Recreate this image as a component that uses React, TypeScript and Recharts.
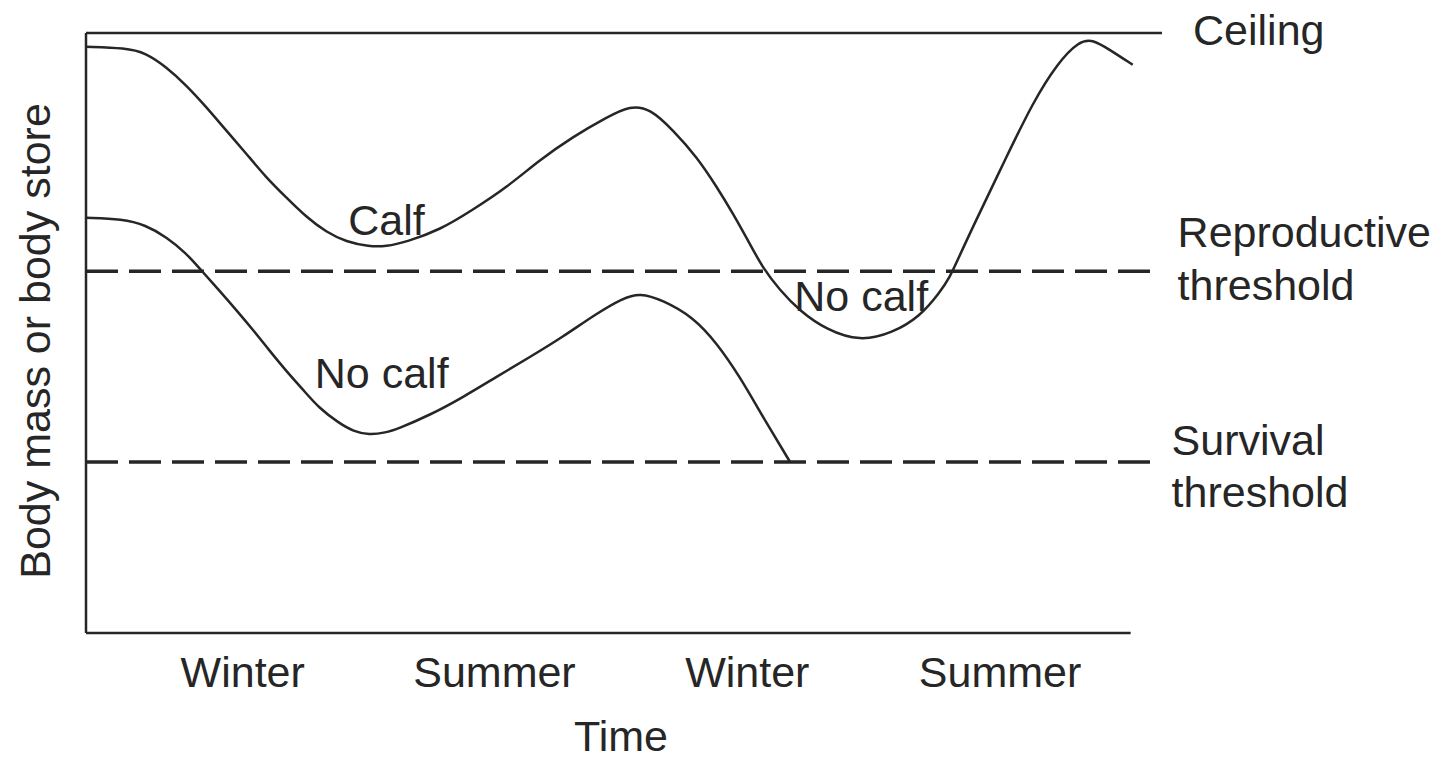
import { LineChart, Line, XAxis, YAxis, ReferenceLine, ReferenceDot, Label } from 'recharts'

// conceptual time axis: 0 = start of first winter, 100 = end of the drawn axis
const calfTime = [0, 3.8, 5.7, 7.7, 9.6, 11.5, 13.4, 15.3, 17.2, 19.1, 21.1, 23.0, 24.9, 27.1, 28.7, 30.7, 33.9, 37.0, 40.3, 43.4, 46.6, 49.9, 52.1, 54.0, 56.2, 58.5, 60.4, 61.9, 63.5, 64.8, 66.4, 68.3, 70.9, 74.1, 77.2, 79.8, 81.7, 82.7, 83.6, 84.9, 88.1, 90.6, 93.0, 95.1, 96.4, 98.0, 100.2]
const calfMass = [97.7, 97.5, 96.7, 94.3, 91.3, 87.7, 83.8, 80.0, 76.0, 72.7, 69.3, 66.8, 65.2, 64.4, 64.4, 65.2, 67.2, 70.5, 74.3, 78.8, 82.7, 86.0, 87.9, 87.4, 83.8, 79.3, 74.3, 70.0, 65.0, 60.8, 57.2, 53.7, 50.5, 48.6, 50.0, 52.7, 56.7, 59.3, 62.8, 67.7, 79.3, 88.3, 95.0, 98.7, 98.9, 97.2, 94.7]

const noCalfTime = [0, 3.5, 5.7, 7.7, 9.6, 11.0, 12.7, 14.4, 16.0, 17.5, 19.1, 20.8, 22.3, 24.2, 25.6, 27.1, 28.7, 29.8, 32.9, 36.1, 39.3, 42.5, 45.6, 48.9, 51.4, 53.0, 55.2, 58.1, 60.4, 62.6, 64.8, 67.4]
const noCalfMass = [69.2, 69.0, 68.0, 66.0, 63.3, 60.5, 57.2, 53.8, 50.5, 47.2, 43.8, 40.5, 37.5, 35.0, 33.6, 33.0, 33.4, 34.0, 36.3, 39.3, 42.7, 46.0, 49.3, 53.3, 55.8, 56.7, 55.5, 52.7, 48.3, 42.7, 36.0, 28.5]

const seasonTicks = [15.0, 39.1, 63.3, 87.5]
const seasonLabels = ['Winter', 'Summer', 'Winter', 'Summer']

const ceilingLevel = 100
const reproductiveLevel = 60.3
const survivalLevel = 28.5

const curveLabels = [
  { text: 'Calf', t: 25.1, v: 66.3 },
  { text: 'No calf', t: 21.9, v: 40.8 },
  { text: 'No calf', t: 67.8, v: 53.7 },
]

const calfData = calfTime.map((t, i) => ({ t, v: calfMass[i] }))
const noCalfData = noCalfTime.map((t, i) => ({ t, v: noCalfMass[i] }))

const INK = '#262626'
const FONT = '"Liberation Sans", Arial, Helvetica, sans-serif'
const FS = 43

function SideLabel({ viewBox, lines, dx, dys }: any) {
  const x = viewBox.x + viewBox.width + dx
  return (
    <text x={x} y={viewBox.y} fill={INK} fontSize={FS} fontFamily={FONT}>
      {lines.map((l: string, i: number) => (
        <tspan key={i} x={x} y={viewBox.y + dys[i]}>{l}</tspan>
      ))}
    </text>
  )
}

function InlineLabel({ viewBox, text }: any) {
  return (
    <text x={viewBox.x} y={viewBox.y} fill={INK} fontSize={FS} fontFamily={FONT}>
      {text}
    </text>
  )
}

function SeasonTick({ x, y, payload }: any) {
  const idx = seasonTicks.indexOf(payload.value)
  return (
    <text x={x} y={y + 54} textAnchor="middle" fill={INK} fontSize={FS} fontFamily={FONT}>
      {seasonLabels[idx]}
    </text>
  )
}

function YTitle({ viewBox }: any) {
  const cx = 35
  const cy = viewBox.y + viewBox.height / 2 + 8
  return (
    <text x={cx} y={cy} transform={`rotate(-90 ${cx} ${cy})`} textAnchor="middle" dominantBaseline="central" fill={INK} fontSize={FS} fontFamily={FONT}>
      Body mass or body store
    </text>
  )
}

function XTitle({ viewBox }: any) {
  return (
    <text x={621} y={viewBox.y + 118} textAnchor="middle" fill={INK} fontSize={FS} fontFamily={FONT}>
      Time
    </text>
  )
}

export default function App() {
  return (
    <div style={{ position: 'absolute', left: 0, top: 0, background: '#fff' }}>
      <LineChart width={1439} height={760} margin={{ top: 33, right: 277, bottom: 0, left: 0 }}>
        <XAxis
          type="number"
          dataKey="t"
          domain={[0, 103]}
          ticks={seasonTicks}
          axisLine={false}
          tickLine={false}
          tickSize={0}
          tickMargin={0}
          height={127}
          tick={<SeasonTick />}
        >
          <Label content={<XTitle />} />
        </XAxis>
        <YAxis
          type="number"
          domain={[0, 100]}
          width={86}
          tick={false}
          tickLine={false}
          axisLine={{ stroke: INK, strokeWidth: 2.5 }}
        >
          <Label content={<YTitle />} />
        </YAxis>

        {/* x axis line stops short of the threshold lines */}
        <ReferenceLine segment={[{ x: 0, y: 0 }, { x: 100, y: 0 }]} stroke={INK} strokeWidth={2.5} />

        <ReferenceLine
          segment={[{ x: 0, y: ceilingLevel }, { x: 103, y: ceilingLevel }]}
          stroke={INK}
          strokeWidth={2.5}
          label={<SideLabel lines={['Ceiling']} dx={31} dys={[12]} />}
        />
        <ReferenceLine
          segment={[{ x: 0, y: reproductiveLevel }, { x: 102.1, y: reproductiveLevel }]}
          stroke={INK}
          strokeWidth={3.5}
          strokeDasharray="32 11"
          label={<SideLabel lines={['Reproductive', 'threshold']} dx={25} dys={[-24, 29]} />}
        />
        <ReferenceLine
          segment={[{ x: 0, y: survivalLevel }, { x: 102.1, y: survivalLevel }]}
          stroke={INK}
          strokeWidth={3.5}
          strokeDasharray="32 11"
          label={<SideLabel lines={['Survival', 'threshold']} dx={19} dys={[-7, 45]} />}
        />

        <Line
          name="Calf"
          data={calfData}
          dataKey="v"
          type="basis"
          stroke={INK}
          strokeWidth={2.5}
          dot={false}
          activeDot={false}
          isAnimationActive={false}
        />
        <Line
          name="No calf"
          data={noCalfData}
          dataKey="v"
          type="basis"
          stroke={INK}
          strokeWidth={2.5}
          dot={false}
          activeDot={false}
          isAnimationActive={false}
        />

        {curveLabels.map((c, i) => (
          <ReferenceDot key={i} x={c.t} y={c.v} r={0} fill="none" stroke="none" label={<InlineLabel text={c.text} />} />
        ))}
      </LineChart>
    </div>
  )
}
